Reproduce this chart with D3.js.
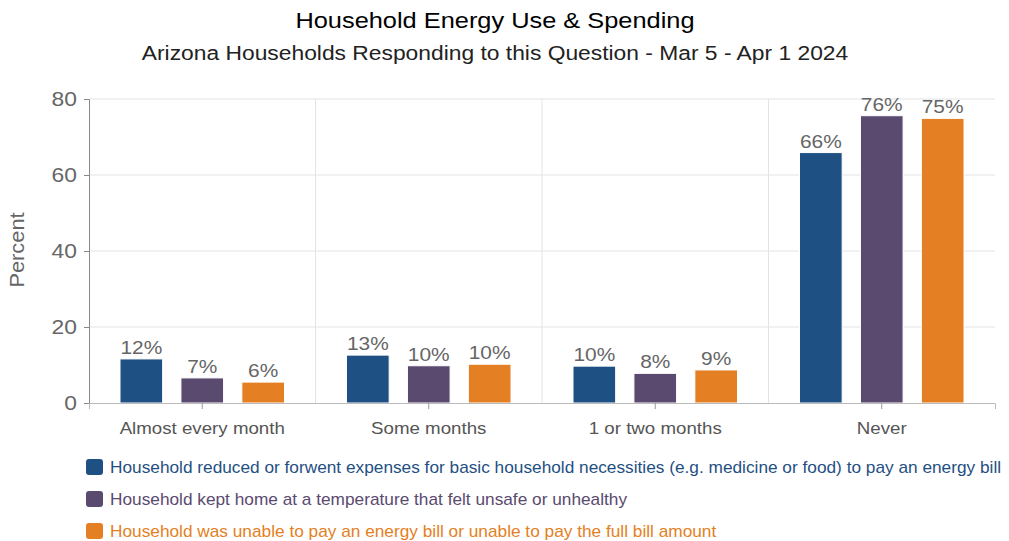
<!DOCTYPE html>
<html>
<head>
<meta charset="UTF-8">
<script src="https://d3js.org/d3.v7.min.js"></script>
<style>
  body { margin: 0; background: #fff; }
  svg { display: block; font-family: "Liberation Sans", Arial, sans-serif; }
</style>
</head>
<body>
<svg id="chart" width="1009" height="541"></svg>
<script>
// data
const categories = ['Almost every month', 'Some months', '1 or two months', 'Never']
const seriesNames = [
  'Household reduced or forwent expenses for basic household necessities (e.g. medicine or food) to pay an energy bill',
  'Household kept home at a temperature that felt unsafe or unhealthy',
  'Household was unable to pay an energy bill or unable to pay the full bill amount'
]
const reducedExpenses = [11.6, 12.6, 9.7, 65.9]
const unsafeTemp = [6.6, 9.8, 7.8, 75.6]
const unableToPay = [5.5, 10.2, 8.7, 74.9]
const yTicks = [0, 20, 40, 60, 80]
const colors = ['#1f5083', '#5b4a6f', '#e47f24']

const seriesValues = [reducedExpenses, unsafeTemp, unableToPay]

const svg = d3.select('#chart')
const margin = { top: 99, left: 89, right: 14, bottom: 138 }
const width = 1009, height = 541
const innerW = width - margin.left - margin.right
const innerH = height - margin.top - margin.bottom

// the reference text is drawn a bit wider than Arial, so stretch it a little
function stretch(sel, k) {
  sel.each(function() {
    const len = this.getComputedTextLength()
    d3.select(this).attr('textLength', len * k).attr('lengthAdjust', 'spacingAndGlyphs')
  })
}

const g = svg.append('g').attr('transform', `translate(${margin.left},${margin.top})`)

const x0 = d3.scaleBand().domain(categories).range([0, innerW])
const x1 = d3.scaleBand().domain(d3.range(3)).range([31, x0.bandwidth() - 31]).paddingInner(0.3)
const y = d3.scaleLinear().domain([0, 80]).range([innerH, 0])

// gridlines
g.selectAll('.hgrid').data(yTicks.filter(t => t > 0)).enter().append('line')
  .attr('x1', 0).attr('x2', innerW)
  .attr('y1', d => y(d)).attr('y2', d => y(d))
  .attr('stroke', '#e3e3e3').attr('stroke-width', 1)
g.selectAll('.vgrid').data(categories.slice(1)).enter().append('line')
  .attr('x1', d => x0(d)).attr('x2', d => x0(d))
  .attr('y1', 0).attr('y2', innerH)
  .attr('stroke', '#e3e3e3').attr('stroke-width', 1)

// bars
categories.forEach((c, ci) => {
  const grp = g.append('g').attr('transform', `translate(${x0(c)},0)`)
  seriesValues.forEach((vals, si) => {
    grp.append('rect')
      .attr('x', x1(si))
      .attr('y', y(vals[ci]))
      .attr('width', x1.bandwidth())
      .attr('height', innerH - y(vals[ci]))
      .attr('fill', colors[si])
      .attr('stroke', '#ffffff').attr('stroke-width', 1)
    grp.append('text')
      .attr('class', 'barlabel')
      .attr('x', x1(si) + x1.bandwidth() / 2)
      .attr('y', y(vals[ci]) - 5)
      .attr('text-anchor', 'middle')
      .attr('font-size', '19px')
      .attr('fill', '#666')
      .text(Math.round(vals[ci]) + '%')
  })
})
stretch(g.selectAll('.barlabel'), 1.1)

// y axis
const yAxis = g.append('g').call(d3.axisLeft(y).tickValues(yTicks).tickSize(5).tickPadding(7))
yAxis.select('.domain').attr('stroke', '#888')
yAxis.selectAll('.tick line').attr('stroke', '#888')
yAxis.selectAll('text').attr('font-size', '19.5px').attr('fill', '#666').attr('font-family', 'Liberation Sans, Arial, sans-serif')
stretch(yAxis.selectAll('text'), 1.17)

// x axis
const xAxis = g.append('g').attr('transform', `translate(0,${innerH})`)
  .call(d3.axisBottom(x0).tickSizeOuter(0).tickSize(6).tickPadding(13))
xAxis.select('.domain').attr('stroke', '#bbb')
xAxis.selectAll('.tick line').attr('stroke', '#999')
xAxis.selectAll('text').attr('font-size', '17px').attr('fill', '#555').attr('font-family', 'Liberation Sans, Arial, sans-serif')
stretch(xAxis.selectAll('text'), 1.1)

// y label
const yLab = svg.append('text')
  .attr('transform', 'translate(24,250) rotate(-90)')
  .attr('text-anchor', 'middle')
  .attr('font-size', '20px')
  .attr('fill', '#666')
  .text('Percent')
stretch(yLab, 1.09)

// titles
const title = svg.append('text')
  .attr('x', 495).attr('y', 28)
  .attr('text-anchor', 'middle')
  .attr('font-size', '21.5px')
  .attr('fill', '#000')
  .text('Household Energy Use & Spending')
stretch(title, 1.18)
const subtitle = svg.append('text')
  .attr('x', 495).attr('y', 60)
  .attr('text-anchor', 'middle')
  .attr('font-size', '19.5px')
  .attr('fill', '#222')
  .text('Arizona Households Responding to this Question - Mar 5 - Apr 1 2024')
stretch(subtitle, 1.17)

// legend
const legend = svg.append('g').attr('transform', 'translate(86,459)')
seriesNames.forEach((name, i) => {
  const row = legend.append('g').attr('transform', `translate(0,${i * 32})`)
  row.append('rect')
    .attr('width', 17).attr('height', 16).attr('rx', 3)
    .attr('fill', colors[i])
  row.append('text')
    .attr('x', 24).attr('y', 14)
    .attr('font-size', '17px')
    .attr('fill', colors[i])
    .text(name)
})
stretch(legend.selectAll('text'), 1.015)
</script>
</body>
</html>
